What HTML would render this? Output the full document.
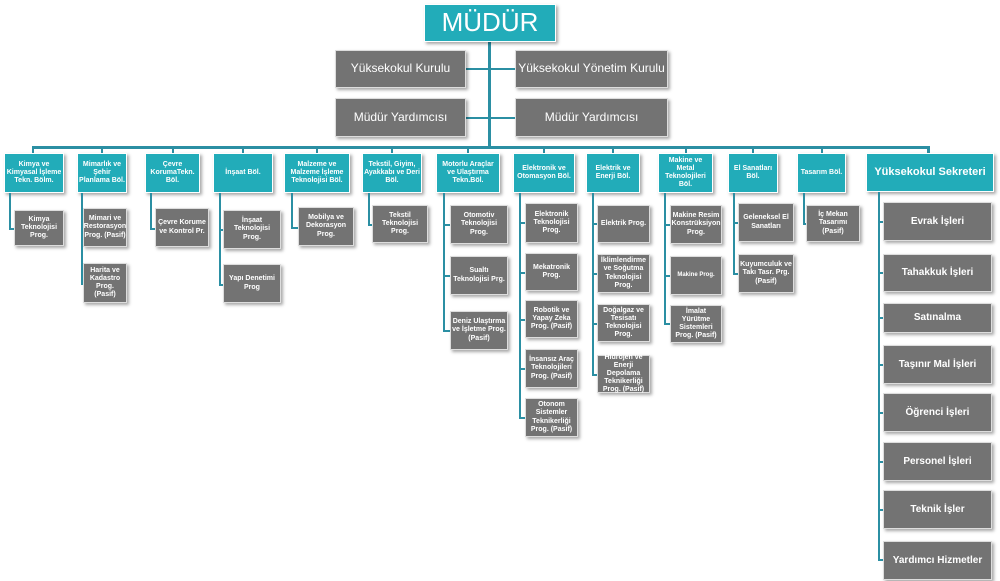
<!DOCTYPE html>
<html><head><meta charset="utf-8"><style>
body{margin:0;width:1000px;height:581px;background:#fff;position:relative;overflow:hidden;font-family:"Liberation Sans",sans-serif;}
.b{position:absolute;display:flex;align-items:center;justify-content:center;text-align:center;color:#fff;font-weight:bold;box-sizing:border-box;line-height:1.15;box-shadow:2px 2px 3px rgba(0,0,0,.35);}
.t{background:#22acb9;border:1px solid #fff;font-size:7px;padding:1px}
.g{background:#737373;border:1px solid #ddd;font-size:7px;padding:1px}
.l{position:absolute;background:#2b8fa3}
</style></head><body>
<!-- top lines -->
<div class="l" style="left:488px;top:42px;width:3px;height:106px"></div>
<div class="l" style="left:32px;top:146px;width:897px;height:3px"></div>
<div class="l" style="left:466px;top:68px;width:49px;height:2px"></div>
<div class="l" style="left:466px;top:117px;width:49px;height:2px"></div>
<div class="l" style="left:927px;top:146px;width:3px;height:8px"></div>

<div class="b t" style="left:424px;top:4px;width:132px;height:38px;font-size:26px;font-weight:normal">MÜDÜR</div>
<div class="b g" style="left:335px;top:50px;width:131px;height:38px;font-size:12px;font-weight:normal">Yüksekokul Kurulu</div>
<div class="b g" style="left:515px;top:50px;width:153px;height:38px;font-size:12px;font-weight:normal">Yüksekokul Yönetim Kurulu</div>
<div class="b g" style="left:335px;top:98px;width:131px;height:39px;font-size:12px;font-weight:normal">Müdür Yardımcısı</div>
<div class="b g" style="left:515px;top:98px;width:153px;height:39px;font-size:12px;font-weight:normal">Müdür Yardımcısı</div>

<!-- drops -->
<div class="l" style="left:32px;top:146px;width:2px;height:8px"></div>
<div class="l" style="left:101px;top:146px;width:2px;height:8px"></div>
<div class="l" style="left:172px;top:146px;width:2px;height:8px"></div>
<div class="l" style="left:242px;top:146px;width:2px;height:8px"></div>
<div class="l" style="left:316px;top:146px;width:2px;height:8px"></div>
<div class="l" style="left:391px;top:146px;width:2px;height:8px"></div>
<div class="l" style="left:467px;top:146px;width:2px;height:8px"></div>
<div class="l" style="left:543px;top:146px;width:2px;height:8px"></div>
<div class="l" style="left:612px;top:146px;width:2px;height:8px"></div>
<div class="l" style="left:685px;top:146px;width:2px;height:8px"></div>
<div class="l" style="left:752px;top:146px;width:2px;height:8px"></div>
<div class="l" style="left:821px;top:146px;width:2px;height:8px"></div>

<!-- level 2 -->
<div class="b t" style="left:4px;top:153px;width:60px;height:40px">Kimya ve Kimyasal İşleme Tekn. Bölm.</div>
<div class="b t" style="left:77px;top:153px;width:50px;height:40px">Mimarlık ve Şehir Planlama Böl.</div>
<div class="b t" style="left:145px;top:153px;width:55px;height:40px">Çevre KorumaTekn. Böl.</div>
<div class="b t" style="left:213px;top:153px;width:60px;height:40px">İnşaat Böl.</div>
<div class="b t" style="left:284px;top:153px;width:66px;height:40px">Malzeme ve Malzeme İşleme Teknolojisi Böl.</div>
<div class="b t" style="left:362px;top:153px;width:60px;height:40px">Tekstil, Giyim, Ayakkabı ve Deri Böl.</div>
<div class="b t" style="left:436px;top:153px;width:64px;height:40px">Motorlu Araçlar ve Ulaştırma Tekn.Böl.</div>
<div class="b t" style="left:513px;top:153px;width:62px;height:40px">Elektronik ve Otomasyon Böl.</div>
<div class="b t" style="left:586px;top:153px;width:54px;height:40px">Elektrik ve Enerji Böl.</div>
<div class="b t" style="left:658px;top:153px;width:55px;height:40px">Makine ve Metal Teknolojileri Böl.</div>
<div class="b t" style="left:728px;top:153px;width:50px;height:40px">El Sanatları Böl.</div>
<div class="b t" style="left:797px;top:153px;width:49px;height:40px">Tasarım Böl.</div>
<div class="b t" style="left:866px;top:153px;width:128px;height:39px;font-size:11px">Yüksekokul Sekreteri</div>

<!-- vertical child lines -->
<div class="l" style="left:9px;top:193px;width:2px;height:36px"></div>
<div class="l" style="left:81px;top:193px;width:2px;height:91px"></div>
<div class="l" style="left:150px;top:193px;width:2px;height:36px"></div>
<div class="l" style="left:219px;top:193px;width:2px;height:92px"></div>
<div class="l" style="left:291px;top:193px;width:2px;height:35px"></div>
<div class="l" style="left:368px;top:193px;width:2px;height:32px"></div>
<div class="l" style="left:443px;top:193px;width:2px;height:139px"></div>
<div class="l" style="left:519px;top:193px;width:2px;height:226px"></div>
<div class="l" style="left:592px;top:193px;width:2px;height:182px"></div>
<div class="l" style="left:664px;top:193px;width:2px;height:132px"></div>
<div class="l" style="left:733px;top:193px;width:2px;height:82px"></div>
<div class="l" style="left:803px;top:193px;width:2px;height:32px"></div>
<div class="l" style="left:878px;top:192px;width:2px;height:369px"></div>

<!-- children -->
<div class="l" style="left:9px;top:228px;width:6px;height:2px"></div>
<div class="b g" style="left:14px;top:210px;width:50px;height:36px">Kimya Teknolojisi Prog.</div>

<div class="l" style="left:81px;top:227px;width:3px;height:2px"></div>
<div class="b g" style="left:83px;top:208px;width:44px;height:39px">Mimari ve Restorasyon Prog. (Pasif)</div>
<div class="l" style="left:81px;top:283px;width:3px;height:2px"></div>
<div class="b g" style="left:83px;top:263px;width:44px;height:40px">Harita ve Kadastro Prog. (Pasif)</div>

<div class="l" style="left:150px;top:228px;width:6px;height:2px"></div>
<div class="b g" style="left:155px;top:208px;width:54px;height:39px">Çevre Korume ve Kontrol Pr.</div>

<div class="l" style="left:219px;top:229px;width:5px;height:2px"></div>
<div class="b g" style="left:223px;top:210px;width:58px;height:39px">İnşaat Teknolojisi Prog.</div>
<div class="l" style="left:219px;top:284px;width:5px;height:2px"></div>
<div class="b g" style="left:223px;top:264px;width:58px;height:39px">Yapı Denetimi Prog</div>

<div class="l" style="left:291px;top:227px;width:8px;height:2px"></div>
<div class="b g" style="left:298px;top:207px;width:56px;height:39px">Mobilya ve Dekorasyon Prog.</div>

<div class="l" style="left:368px;top:224px;width:5px;height:2px"></div>
<div class="b g" style="left:372px;top:205px;width:56px;height:38px">Tekstil Teknolojisi Prog.</div>

<div class="l" style="left:443px;top:224px;width:8px;height:2px"></div>
<div class="b g" style="left:450px;top:205px;width:58px;height:39px">Otomotiv Teknolojisi Prog.</div>
<div class="l" style="left:443px;top:275px;width:8px;height:2px"></div>
<div class="b g" style="left:450px;top:256px;width:58px;height:39px">Sualtı Teknolojisi Prg.</div>
<div class="l" style="left:443px;top:330px;width:8px;height:2px"></div>
<div class="b g" style="left:450px;top:311px;width:58px;height:39px">Deniz Ulaştırma ve İşletme Prog. (Pasif)</div>

<div class="l" style="left:519px;top:222px;width:7px;height:2px"></div>
<div class="b g" style="left:525px;top:203px;width:53px;height:40px">Elektronik Teknolojisi Prog.</div>
<div class="l" style="left:519px;top:272px;width:7px;height:2px"></div>
<div class="b g" style="left:525px;top:253px;width:53px;height:38px">Mekatronik Prog.</div>
<div class="l" style="left:519px;top:319px;width:7px;height:2px"></div>
<div class="b g" style="left:525px;top:300px;width:53px;height:38px">Robotik ve Yapay Zeka Prog. (Pasif)</div>
<div class="l" style="left:519px;top:368px;width:7px;height:2px"></div>
<div class="b g" style="left:525px;top:349px;width:53px;height:39px">İnsansız Araç Teknolojileri Prog. (Pasif)</div>
<div class="l" style="left:519px;top:417px;width:7px;height:2px"></div>
<div class="b g" style="left:525px;top:398px;width:53px;height:39px">Otonom Sistemler Teknikerliği Prog. (Pasif)</div>

<div class="l" style="left:592px;top:223px;width:6px;height:2px"></div>
<div class="b g" style="left:597px;top:205px;width:53px;height:38px">Elektrik Prog.</div>
<div class="l" style="left:592px;top:273px;width:6px;height:2px"></div>
<div class="b g" style="left:597px;top:254px;width:53px;height:39px">İklimlendirme ve Soğutma Teknolojisi Prog.</div>
<div class="l" style="left:592px;top:323px;width:6px;height:2px"></div>
<div class="b g" style="left:597px;top:304px;width:53px;height:38px">Doğalgaz ve Tesisatı Teknolojisi Prog.</div>
<div class="l" style="left:592px;top:374px;width:6px;height:2px"></div>
<div class="b g" style="left:597px;top:355px;width:53px;height:38px">Hidrojen ve Enerji Depolama Teknikerliği Prog. (Pasif)</div>

<div class="l" style="left:664px;top:224px;width:7px;height:2px"></div>
<div class="b g" style="left:670px;top:205px;width:52px;height:39px">Makine Resim Konstrüksiyon Prog.</div>
<div class="l" style="left:664px;top:275px;width:7px;height:2px"></div>
<div class="b g" style="left:670px;top:256px;width:52px;height:39px;font-size:6px">Makine Prog.</div>
<div class="l" style="left:664px;top:323px;width:7px;height:2px"></div>
<div class="b g" style="left:670px;top:305px;width:52px;height:38px">İmalat Yürütme Sistemleri Prog. (Pasif)</div>

<div class="l" style="left:733px;top:222px;width:6px;height:2px"></div>
<div class="b g" style="left:738px;top:203px;width:56px;height:39px">Geleneksel El Sanatları</div>
<div class="l" style="left:733px;top:273px;width:6px;height:2px"></div>
<div class="b g" style="left:738px;top:254px;width:56px;height:39px">Kuyumculuk ve Takı Tasr. Prg. (Pasif)</div>

<div class="l" style="left:803px;top:223px;width:4px;height:2px"></div>
<div class="b g" style="left:806px;top:205px;width:54px;height:37px">İç Mekan Tasarımı (Pasif)</div>

<div class="l" style="left:878px;top:221px;width:6px;height:2px"></div>
<div class="b g" style="left:883px;top:202px;width:109px;height:39px;font-size:10px">Evrak İşleri</div>
<div class="l" style="left:878px;top:272px;width:6px;height:2px"></div>
<div class="b g" style="left:883px;top:254px;width:109px;height:38px;font-size:10px">Tahakkuk İşleri</div>
<div class="l" style="left:878px;top:317px;width:6px;height:2px"></div>
<div class="b g" style="left:883px;top:303px;width:109px;height:30px;font-size:10px">Satınalma</div>
<div class="l" style="left:878px;top:364px;width:6px;height:2px"></div>
<div class="b g" style="left:883px;top:345px;width:109px;height:39px;font-size:10px">Taşınır Mal İşleri</div>
<div class="l" style="left:878px;top:412px;width:6px;height:2px"></div>
<div class="b g" style="left:883px;top:393px;width:109px;height:39px;font-size:10px">Öğrenci İşleri</div>
<div class="l" style="left:878px;top:461px;width:6px;height:2px"></div>
<div class="b g" style="left:883px;top:442px;width:109px;height:39px;font-size:10px">Personel İşleri</div>
<div class="l" style="left:878px;top:509px;width:6px;height:2px"></div>
<div class="b g" style="left:883px;top:490px;width:109px;height:39px;font-size:10px">Teknik İşler</div>
<div class="l" style="left:878px;top:559px;width:6px;height:2px"></div>
<div class="b g" style="left:883px;top:541px;width:109px;height:39px;font-size:10px">Yardımcı Hizmetler</div>
</body></html>
